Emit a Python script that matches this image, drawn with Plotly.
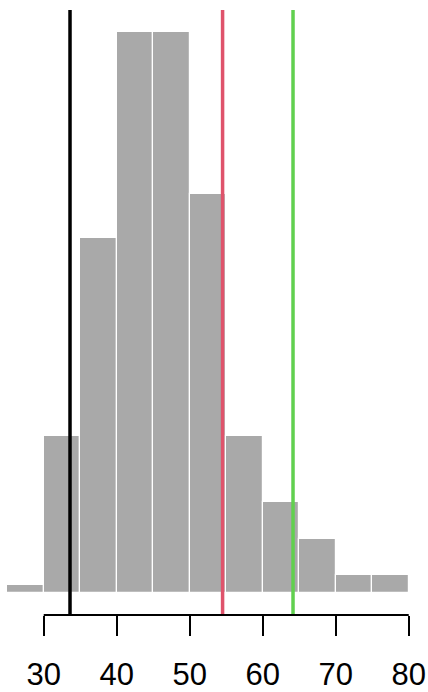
import plotly.graph_objects as go

bin_edges = [25, 30, 35, 40, 45, 50, 55, 60, 65, 70, 75, 80]
counts = [3, 64, 145, 229, 229, 163, 64, 37, 22, 7, 7]
vline_values = [33.6, 54.5, 64.15]
vline_colors = ["#000000", "#DF536B", "#61D04F"]
tick_values = [30, 40, 50, 60, 70, 80]
tick_labels = ["30", "40", "50", "60", "70", "80"]

centers = [(a + b) / 2 for a, b in zip(bin_edges[:-1], bin_edges[1:])]
widths = [b - a for a, b in zip(bin_edges[:-1], bin_edges[1:])]

fig = go.Figure()
fig.add_trace(go.Bar(
    x=centers, y=counts, width=widths,
    marker=dict(color="#A9A9A9", line=dict(color="white", width=1.2)),
    hoverinfo="skip", showlegend=False,
))

shapes = []
for v, c in zip(vline_values, vline_colors):
    shapes.append(dict(type="line", xref="x", yref="paper", x0=v, x1=v, y0=0, y1=1,
                       line=dict(color=c, width=3.5), layer="above"))
shapes.append(dict(type="line", xref="x", yref="paper", x0=min(tick_values), x1=max(tick_values),
                   y0=0, y1=0, line=dict(color="black", width=2)))

ymax = max(counts)
fig.update_layout(
    width=428, height=692,
    margin=dict(l=0, r=0, t=10, b=77, autoexpand=False),
    paper_bgcolor="white", plot_bgcolor="white",
    bargap=0,
    shapes=shapes,
    xaxis=dict(range=[24.01, 82.64], tickvals=tick_values, ticktext=tick_labels,
               ticks="outside", ticklen=20, tickwidth=2, tickcolor="black",
               showgrid=False, zeroline=False, showline=False, automargin=False,
               tickfont=dict(family="Liberation Sans, Arial", size=31, color="black"),
               ticklabelstandoff=12),
    yaxis=dict(range=[-0.04 * ymax, 1.04 * ymax], visible=False, showgrid=False, zeroline=False),
)

fig.write_html("out.html", config={"displayModeBar": False},
               post_script="document.body.style.margin='0';document.body.style.overflow='hidden';")
